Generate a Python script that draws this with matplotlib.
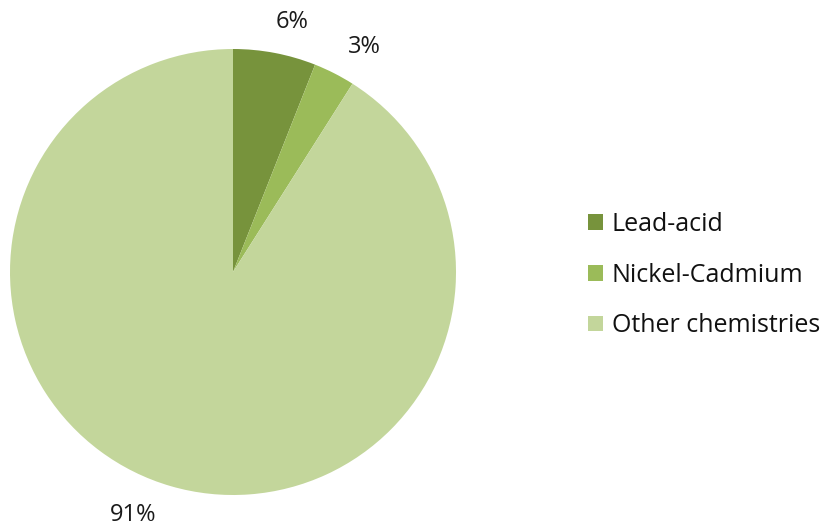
import numpy as np
import matplotlib.pyplot as plt
from matplotlib.patches import Patch

plt.rcParams['font.family'] = ['Open Sans', 'DejaVu Sans']

labels = ["Lead-acid", "Nickel-Cadmium", "Other chemistries"]
shares = [6, 3, 91]
colors = ["#77933C", "#9BBB59", "#C3D69B"]
# label offsets (in pie radii) as placed in the original
label_pos = [(0.265, 1.12), (0.59, 1.01), (-0.45, -1.09)]

fig = plt.figure(figsize=(8.25, 5.3), dpi=100)
ax = fig.add_axes([10 / 825, 35 / 530, 446 / 825, 446 / 530])
ax.pie(shares, colors=colors, startangle=90, counterclock=False, radius=1.0,
       wedgeprops=dict(linewidth=0))
for v, (x, y) in zip(shares, label_pos):
    ax.text(x, y, f"{v}%", ha="center", va="center", fontsize=17, color="#1a1a1a")
ax.set_xlim(-1, 1)
ax.set_ylim(-1, 1)
ax.set_aspect("equal")
ax.axis("off")

handles = [Patch(facecolor=c, edgecolor="none") for c in colors]
fig.legend(handles, labels, loc="center left",
           bbox_to_anchor=(588 / 825, (530 - 275) / 530),
           frameon=False, fontsize=18, handlelength=0.6, handleheight=0.6,
           handletextpad=0.35, labelspacing=1.03, labelcolor="#111111",
           borderaxespad=0, borderpad=0)

fig.savefig("out.png", dpi=100)
